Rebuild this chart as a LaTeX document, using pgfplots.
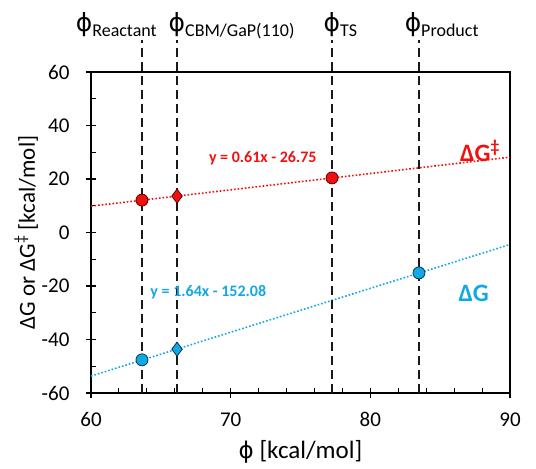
\documentclass[border=0pt]{standalone}
\usepackage{pgfplots}
\usepackage{fontspec}
\setmainfont{Carlito}
\newfontfamily\phifont{DejaVu Sans}
\pgfplotsset{compat=1.18}
\definecolor{Red}{HTML}{F01010}
\definecolor{DarkRed}{HTML}{600000}
\definecolor{Blue}{HTML}{12A8E3}
\definecolor{DarkBlue}{HTML}{0A3550}
\newcommand{\phis}{{\phifont\fontsize{25}{27}\selectfont ϕ}}

\begin{document}
\begin{tikzpicture}
\begin{axis}[
  scale only axis, width=419pt, height=321pt,
  xmin=60, xmax=90, ymin=-60, ymax=60,
  xtick={60,70,80,90}, ytick={-60,-40,...,60},
  minor x tick num=4, minor y tick num=1,
  tick align=center, xtick pos=bottom, ytick pos=left,
  major tick length=10pt, minor tick length=5pt,
  minor x tick style={yshift=2.5pt}, minor y tick style={xshift=2.5pt},
  tick style={line width=1.1pt, black},
  axis line style={line width=1.5pt},
  /pgf/number format/assume math mode=true,
  tick label style={font=\fontsize{21}{23}\selectfont},
  xticklabel style={yshift=-11pt},
  yticklabel style={xshift=-13pt},
  xlabel={{\phifont\fontsize{23}{25}\selectfont ϕ} [kcal/mol]},
  ylabel={ΔG or ΔG\textsuperscript{‡} [kcal/mol]},
  xlabel style={font=\fontsize{25}{27}\selectfont, yshift=-7pt},
  ylabel style={font=\fontsize{23}{25}\selectfont, yshift=-3pt},
  clip=false,
]
% trend lines
\addplot[Red, line width=1.6pt, dotted] coordinates {(60,9.85) (90,28.15)};
\addplot[Blue, line width=1.6pt, dotted] coordinates {(60,-53.68) (90,-4.48)};
% data points
\addplot[only marks, mark=*, mark size=6pt, mark options={fill=Red, draw=DarkRed, line width=0.8pt}]
  coordinates {(63.65,12.1) (77.26,20.4)};
\addplot[only marks, mark=diamond*, mark size=7pt, mark options={fill=Red, draw=DarkRed, line width=0.8pt}]
  coordinates {(66.16,13.6)};
\addplot[only marks, mark=*, mark size=6pt, mark options={fill=Blue, draw=DarkBlue, line width=0.8pt}]
  coordinates {(63.65,-47.6) (83.48,-15.1)};
\addplot[only marks, mark=diamond*, mark size=7pt, mark options={fill=Blue, draw=DarkBlue, line width=0.8pt}]
  coordinates {(66.16,-43.6)};
% vertical phi lines
\addplot[black!90, line width=1.5pt, dash pattern=on 9pt off 5pt] coordinates {(63.65,-60) (63.65,72)};
\addplot[black!90, line width=1.5pt, dash pattern=on 9pt off 5pt] coordinates {(66.16,-60) (66.16,72)};
\addplot[black!90, line width=1.5pt, dash pattern=on 9pt off 5pt] coordinates {(77.26,-60) (77.26,72)};
\addplot[black!90, line width=1.5pt, dash pattern=on 9pt off 5pt] coordinates {(83.48,-60) (83.48,72)};
% labels
\node[anchor=base west, inner sep=0pt] at (axis cs:58.9,75)
  {\phis\raisebox{-5pt}{\fontsize{18}{20}\selectfont Reactant}};
\node[anchor=base west, inner sep=0pt] at (axis cs:65.55,75)
  {\phis\raisebox{-5pt}{\fontsize{18}{20}\selectfont CBM/GaP(110)}};
\node[anchor=base west, inner sep=0pt] at (axis cs:76.65,75)
  {\phis\raisebox{-5pt}{\fontsize{18}{20}\selectfont TS}};
\node[anchor=base west, inner sep=0pt] at (axis cs:82.45,75)
  {\phis\raisebox{-5pt}{\fontsize{18}{20}\selectfont Product}};
\node[text=Red, font=\bfseries\fontsize{16}{18}\selectfont] at (axis cs:72.3,27.8) {y = 0.61x - 26.75};
\node[text=Blue, font=\bfseries\fontsize{16}{18}\selectfont] at (axis cs:68.4,-22.2) {y = 1.64x - 152.08};
\node[text=Red, font=\bfseries\fontsize{25}{26}\selectfont] at (axis cs:87.85,30.5) {ΔG\textsuperscript{‡}};
\node[text=Blue, font=\bfseries\fontsize{25}{26}\selectfont] at (axis cs:87.4,-22.6) {ΔG};
% margins as in the reference
\path (axis cs:90,60) ++(26pt,72pt);
\path (axis cs:60,-60) ++(-91pt,-75pt);
\end{axis}
\end{tikzpicture}
\end{document}
